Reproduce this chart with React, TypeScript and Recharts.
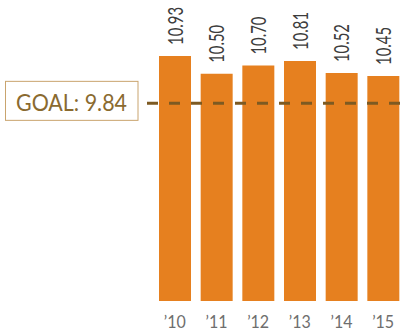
import React from "react";
import { BarChart, Bar, XAxis, YAxis, ReferenceLine, LabelList } from "recharts";

const years = ["\u201910", "\u201911", "\u201912", "\u201913", "\u201914", "\u201915"];
const values = [10.93, 10.5, 10.7, 10.81, 10.52, 10.45];
const goal = 9.84;
const goalLabel = "GOAL: 9.84";

const data = years.map((year, i) => ({ year, value: values[i] }));

const FONT = "Lato, 'Open Sans', sans-serif";
const LABEL_SIZE = 21;

let labelScale = 0.7;
try {
  const ctx = document.createElement("canvas").getContext("2d");
  if (ctx) {
    ctx.font = `${LABEL_SIZE}px Lato`;
    const w = ctx.measureText("10.93").width;
    if (w > 0) labelScale = 38 / w;
  }
} catch (e) {
  labelScale = 0.7;
}

const ValueLabel = (props: any) => {
  const { x, y, width, value } = props;
  const cx = Number(x) + Number(width) / 2;
  return (
    <text
      transform={`translate(${cx + 7.5}, ${Number(y) - 11}) rotate(-90) scale(${labelScale}, 1)`}
      textAnchor="start"
      fontFamily={FONT}
      fontSize={LABEL_SIZE}
      fill="#3c3c3c"
    >
      {Number(value).toFixed(2)}
    </text>
  );
};

const YearTick = (props: any) => {
  const { x, y, payload } = props;
  return (
    <text
      x={x}
      y={y + 27}
      textAnchor="middle"
      fontFamily={FONT}
      fontSize={18}
      fill="#6e6e6e"
      textLength={22}
      lengthAdjust="spacingAndGlyphs"
    >
      {payload.value}
    </text>
  );
};

const GoalLine = (props: any) => {
  const { x1, y1, x2, y2 } = props;
  return (
    <line
      x1={x1 - 7}
      y1={y1 + 2}
      x2={x2}
      y2={y2 + 2}
      stroke="#7d5a22"
      strokeWidth={3}
      strokeDasharray="11 11"
    />
  );
};

const GoalBox = (props: any) => {
  const vb = props.viewBox || {};
  const left = 5.5;
  const right = vb.x - 16;
  const cy = vb.y;
  return (
    <g>
      <rect
        x={left}
        y={cy - 20}
        width={right - left}
        height={39}
        fill="#ffffff"
        stroke="#c9a46e"
        strokeWidth={1}
      />
      <text
        x={16}
        y={cy + 10}
        fontFamily={FONT}
        fontSize={23}
        fill="#8a6a2f"
        textLength={111}
        lengthAdjust="spacingAndGlyphs"
      >
        {goalLabel}
      </text>
    </g>
  );
};

export default function App() {
  return (
    <div
      style={{
        position: "absolute",
        left: 0,
        top: 0,
        width: 400,
        height: 334,
        overflow: "hidden",
        background: "#ffffff",
      }}
    >
      <BarChart
        width={410}
        height={334}
        data={data}
        margin={{ top: 53, right: 6, bottom: 0, left: 154 }}
      >
        <XAxis
          dataKey="year"
          height={33}
          axisLine={false}
          tickLine={false}
          tickSize={0}
          tickMargin={0}
          interval={0}
          tick={<YearTick />}
        />
        <YAxis hide domain={[5.05, 11]} allowDataOverflow />
        <Bar dataKey="value" fill="#e6801f" barSize={32} isAnimationActive={false}>
          <LabelList dataKey="value" content={<ValueLabel />} />
        </Bar>
        <ReferenceLine
          y={goal}
          shape={<GoalLine />}
          label={<GoalBox />}
          isFront
        />
      </BarChart>
    </div>
  );
}
